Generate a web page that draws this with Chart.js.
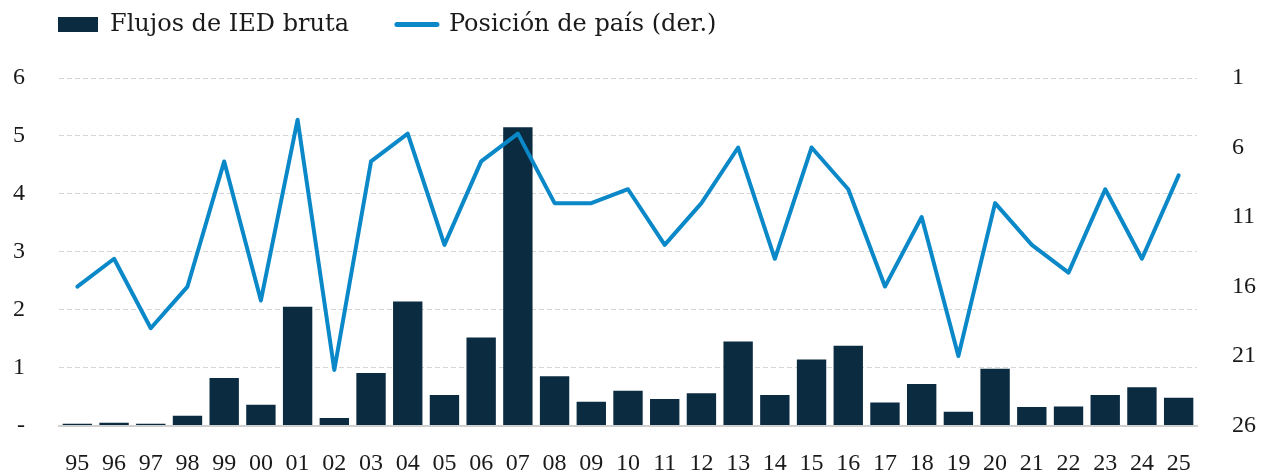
<!DOCTYPE html>
<html>
<head>
<meta charset="utf-8">
<script src="https://cdn.jsdelivr.net/npm/chart.js@4.4.1/dist/chart.umd.min.js"></script>
<style>
  html, body { margin: 0; padding: 0; background: #ffffff; }
  #wrap { position: relative; width: 1263px; height: 475px; }
</style>
</head>
<body>
<div id="wrap"><canvas id="c"></canvas></div>
<script>
const years = ['95','96','97','98','99','00','01','02','03','04','05','06','07','08','09','10','11','12','13','14','15','16','17','18','19','20','21','22','23','24','25'];
const fdiFlows = [0.03,0.05,0.03,0.17,0.82,0.36,2.05,0.13,0.91,2.14,0.53,1.52,5.15,0.85,0.41,0.60,0.46,0.56,1.45,0.53,1.14,1.38,0.40,0.72,0.24,0.98,0.32,0.33,0.53,0.66,0.48];
const countryRank = [16,14,19,16,7,17,4,22,7,5,13,7,5,10,10,9,13,10,6,14,6,9,16,11,21,10,13,15,9,14,8];
const barLabel = 'Flujos de IED bruta';
const lineLabel = 'Posición de país (der.)';

const FONT = "'Liberation Serif', 'DejaVu Serif', serif";
const LEGEND_FONT = "'DejaVu Serif', 'Liberation Serif', serif";
const TXT = '#1a1a1a';
const BAR_COLOR = '#0a2b40';
const LINE_COLOR = '#0a88c8';
const LEGEND_GAP = 48;

const legendPlacement = {
  id: 'legendPlacement',
  beforeInit(chart) {
    const origFit = chart.legend.fit;
    chart.legend.fit = function () {
      origFit.bind(chart.legend)();
      this.height -= 4;
    };
  },
  afterLayout(chart) {
    const lg = chart.legend;
    const dx = 58 - LEGEND_GAP - lg.left;
    const dy = 24.5 - LEGEND_GAP - 12 - lg.top;
    lg.left += dx; lg.right += dx;
    lg.top += dy; lg.bottom += dy;
  }
};

new Chart(document.getElementById('c'), {
  data: {
    labels: years,
    datasets: [
      {
        type: 'bar',
        label: barLabel,
        data: fdiFlows,
        backgroundColor: BAR_COLOR,
        borderWidth: 0,
        yAxisID: 'y',
        order: 1,
        categoryPercentage: 0.8,
        barPercentage: 1.0
      },
      {
        type: 'line',
        label: lineLabel,
        data: countryRank,
        borderColor: LINE_COLOR,
        backgroundColor: LINE_COLOR,
        borderWidth: 4,
        pointRadius: 0,
        tension: 0,
        borderJoinStyle: 'round',
        borderCapStyle: 'round',
        yAxisID: 'y1',
        order: 0
      }
    ]
  },
  options: {
    responsive: true,
    maintainAspectRatio: false,
    animation: false,
    layout: { padding: { left: 0, right: 0, top: 0, bottom: 0 } },
    plugins: {
      tooltip: { enabled: false },
      legend: {
        position: 'top',
        align: 'start',
        labels: {
          font: { family: LEGEND_FONT, size: 24 },
          color: TXT,
          padding: LEGEND_GAP,
          usePointStyle: true,
          pointStyleWidth: 40,
          boxHeight: 15,
          sort: (a, b) => a.datasetIndex - b.datasetIndex,
          generateLabels(chart) {
            const items = Chart.defaults.plugins.legend.labels.generateLabels(chart);
            items.forEach((it) => {
              if (it.datasetIndex === 0) {
                it.pointStyle = 'rect'; it.lineWidth = 0;
                it.fillStyle = BAR_COLOR; it.strokeStyle = BAR_COLOR;
              } else {
                it.pointStyle = 'line'; it.lineWidth = 5; it.lineCap = 'round';
                it.fillStyle = LINE_COLOR; it.strokeStyle = LINE_COLOR;
              }
            });
            return items;
          }
        }
      }
    },
    scales: {
      x: {
        grid: { display: false, drawTicks: false, tickLength: 0 },
        border: { display: true, color: '#cfcfcf', width: 2 },
        ticks: { font: { family: FONT, size: 24 }, color: TXT, padding: 24, maxRotation: 0, autoSkip: false },
        afterFit(scale) { scale.height = 46; }
      },
      y: {
        position: 'left',
        min: 0, max: 6,
        ticks: {
          stepSize: 1,
          font: { family: FONT, size: 24 },
          color: TXT,
          padding: 34,
          callback: (v) => v === 0 ? '-' : String(v)
        },
        grid: { color: '#d6d6d6', lineWidth: 1, drawTicks: false, tickLength: 0 },
        border: { display: false, dash: [5, 3] },
        afterFit(scale) { scale.width = 59; }
      },
      y1: {
        position: 'right',
        reverse: true,
        min: 1, max: 26,
        ticks: { stepSize: 5, font: { family: FONT, size: 24 }, color: TXT, padding: 35 },
        grid: { display: false, drawTicks: false, tickLength: 0 },
        border: { display: false },
        afterFit(scale) { scale.width = 66; }
      }
    }
  },
  plugins: [legendPlacement]
});
</script>
</body>
</html>
